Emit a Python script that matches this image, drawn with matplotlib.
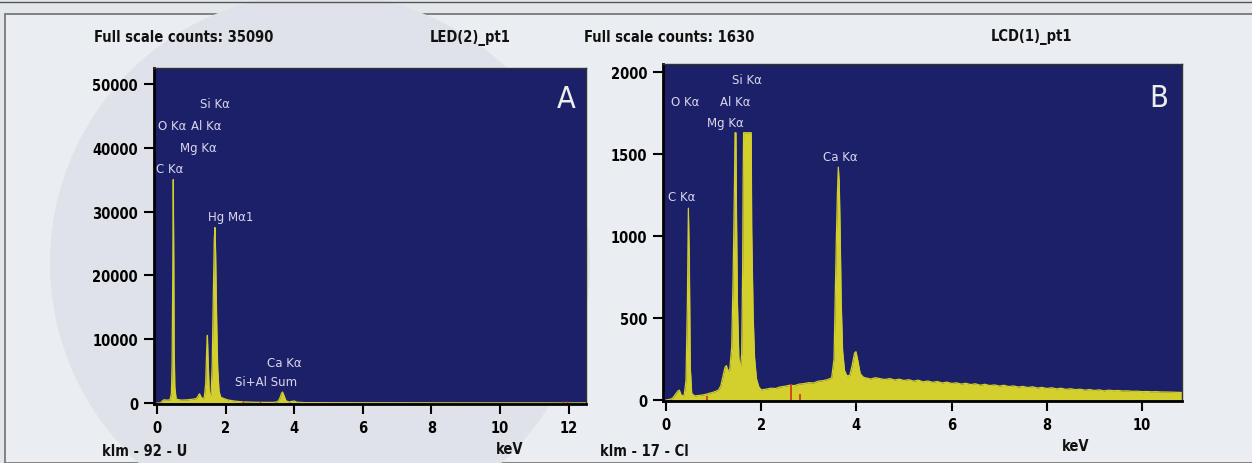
import numpy as np
import matplotlib
matplotlib.use('Agg')
import matplotlib.pyplot as plt
from matplotlib.patches import Rectangle, Circle

# ---- spectrum A: LED(2)_pt1 ----
energy_a = [0.00, 0.10, 0.15, 0.20, 0.30, 0.38, 0.42, 0.44, 0.46, 0.475, 0.49, 0.50, 0.52, 0.56,
            0.70, 0.90, 1.05, 1.15, 1.20, 1.24, 1.28, 1.33, 1.38, 1.42, 1.45, 1.47, 1.49, 1.52,
            1.55, 1.58, 1.61, 1.64, 1.67, 1.69, 1.71, 1.74, 1.77, 1.81, 1.86, 1.95, 2.05, 2.20,
            2.35, 2.50, 2.80, 3.10, 3.40, 3.52, 3.58, 3.63, 3.66, 3.70, 3.76, 3.85, 3.93, 4.00,
            4.08, 4.30, 5.0, 6.0, 7.0, 8.0, 9.0, 10.0, 11.0, 12.0, 12.5]
counts_a = [0, 0, 300, 500, 450, 500, 1500, 6000, 20000, 35000, 22000, 9000, 2500, 600,
            450, 500, 600, 700, 1100, 1450, 1000, 650, 900, 3000, 8500, 10600, 7000, 2200,
            1000, 1500, 6000, 16000, 25500, 27500, 23500, 13000, 5500, 1800, 900, 700, 500, 350,
            250, 180, 120, 100, 100, 200, 700, 1500, 1720, 1200, 350, 150, 250, 320,
            120, 60, 50, 40, 35, 30, 25, 20, 20, 15, 15]
red_a = [2.50, 3.00, 11.85, 11.95]

# ---- spectrum B: LCD(1)_pt1 ----
energy_b = [0.00, 0.10, 0.15, 0.20, 0.25, 0.28, 0.32, 0.38, 0.42, 0.45, 0.47, 0.49, 0.51, 0.54,
            0.60, 0.70, 0.80, 0.90, 1.00, 1.10, 1.15, 1.20, 1.24, 1.27, 1.30, 1.34, 1.38, 1.41,
            1.43, 1.44, 1.45, 1.47, 1.48, 1.50, 1.53, 1.56, 1.59, 1.61, 1.62, 1.63, 1.79, 1.80,
            1.83, 1.86, 1.90, 1.95, 2.00, 2.1, 2.2, 2.3, 2.4, 2.5, 2.6, 2.7, 2.8, 2.9, 3.0, 3.1,
            3.2, 3.3, 3.4, 3.48, 3.53, 3.56, 3.58, 3.60, 3.62, 3.64, 3.66, 3.68, 3.71, 3.75, 3.80,
            3.86, 3.91, 3.96, 3.99, 4.03, 4.08, 4.15,
            4.2, 4.3, 4.4, 4.5, 4.6, 4.7, 4.8, 4.9, 5.0, 5.1, 5.2, 5.3, 5.4, 5.5, 5.6, 5.7, 5.8,
            5.9, 6.0, 6.1, 6.2, 6.3, 6.4, 6.5, 6.6, 6.7, 6.8, 6.9, 7.0, 7.1, 7.2, 7.3, 7.4, 7.5,
            7.6, 7.7, 7.8, 7.9, 8.0, 8.1, 8.2, 8.3, 8.4, 8.5, 8.6, 8.7, 8.8, 8.9, 9.0, 9.1, 9.2,
            9.3, 9.4, 9.5, 9.6, 9.7, 9.8, 9.9, 10.0, 10.1, 10.2, 10.3, 10.4, 10.5, 10.6, 10.7, 10.84]
counts_b = [0, 5, 15, 35, 55, 60, 30, 25, 120, 600, 1170, 850, 200, 40,
            25, 28, 32, 40, 48, 60, 85, 150, 200, 210, 175, 190, 320, 750,
            1134, 1347, 1630, 1630, 1150, 600, 260, 185, 280, 800, 1305, 1630, 1630, 1050,
            520, 260, 130, 80, 62, 66, 72, 70, 80, 84, 90, 88, 97, 100, 106, 104,
            115, 118, 125, 135, 250, 700, 1000, 1244, 1420, 1320, 1000, 600, 300, 180, 148,
            150, 210, 285, 295, 240, 160, 138,
            135, 128, 136, 130, 125, 131, 122, 127, 119, 124, 115, 121, 111, 116, 108, 113, 104,
            109, 101, 105, 97, 102, 94, 99, 90, 96, 88, 92, 85, 90, 82, 86, 79, 83,
            76, 81, 73, 77, 70, 75, 68, 72, 65, 69, 63, 66, 60, 64, 58, 62, 56,
            60, 57, 58, 55, 56, 53, 54, 51, 52, 50, 51, 49, 49, 48, 47, 46]
red_b = [0.86, 2.62, 2.82]
red_b_h = [22, 95, 35]

# peak labels: (text, keV, counts)
labels_a = [('Si Kα', 1.69, 47000), ('O Kα', 0.44, 43500), ('Al Kα', 1.43, 43500),
            ('Mg Kα', 1.20, 40100), ('C Kα', 0.38, 36800), ('Hg Mα1', 2.16, 29300),
            ('Ca Kα', 3.70, 6300), ('Si+Al Sum', 3.18, 3400)]
labels_b = [('Si Kα', 1.70, 1957), ('O Kα', 0.40, 1823), ('Al Kα', 1.45, 1823),
            ('Mg Kα', 1.24, 1695), ('Ca Kα', 3.66, 1482), ('C Kα', 0.34, 1244)]

ticks_a_x = [0, 2, 4, 6, 8, 10, 12]
ticks_a_y = [0, 10000, 20000, 30000, 40000, 50000]
ticks_b_x = [0, 2, 4, 6, 8, 10]
ticks_b_y = [0, 500, 1000, 1500, 2000]

NAVY = '#1b2068'
YELLOW = '#d3cf2c'
LABEL = '#ddd7ee'
BOLD = dict(family='DejaVu Sans', stretch='condensed', weight='bold')

fig = plt.figure(figsize=(12.52, 4.64), dpi=100)
fig.patch.set_facecolor('#e3e7ec')

# page frame and faint background
fig.add_artist(Rectangle((5 / 1252, 0), 1.0, 1 - 15 / 464, transform=fig.transFigure,
                         facecolor='#eaedf1', edgecolor='#707070', lw=1.2, zorder=0))
fig.add_artist(Circle((3.2, 2.0), 2.7, transform=fig.dpi_scale_trans,
                      facecolor='#e0e2ea', edgecolor='none', zorder=0))
fig.add_artist(plt.Line2D([0, 1], [1 - 3 / 464, 1 - 3 / 464], transform=fig.transFigure,
                          color='#555555', lw=1.0))


def draw_panel(ax, energy, counts, xlim, ylim, xt, yt):
    ax.set_facecolor(NAVY)
    ax.fill_between(energy, counts, 0, color=YELLOW, lw=0)
    ax.plot(energy, counts, color=YELLOW, lw=0.9)
    ax.set_xlim(*xlim)
    ax.set_ylim(*ylim)
    ax.set_xticks(xt)
    ax.set_yticks(yt)
    ax.tick_params(direction='out', length=7.5, width=1.5, color='black', pad=4)
    for lab in ax.get_xticklabels() + ax.get_yticklabels():
        lab.set_family(BOLD['family'])
        lab.set_stretch(BOLD['stretch'])
        lab.set_fontweight('bold')
        lab.set_fontsize(10.5)
    for s in ['left', 'bottom']:
        ax.spines[s].set_linewidth(2)
    for s in ['top', 'right']:
        ax.spines[s].set_linewidth(1)
        ax.spines[s].set_color('#333333')


axa = fig.add_axes([154 / 1252, 1 - 405 / 464, 432 / 1252, 336 / 464])
draw_panel(axa, energy_a, counts_a, (-0.087, 12.51), (-157, 52500), ticks_a_x, ticks_a_y)
axa.vlines(red_a, 0, 250, color='#d03020', lw=1)
for txt, x, y in labels_a:
    axa.text(x, y, txt, color=LABEL, fontsize=8.5, ha='center', va='center')
axa.text(0.955, 0.91, 'A', transform=axa.transAxes, color='#eeeeee', fontsize=22,
         family='DejaVu Sans', stretch='condensed', ha='center', va='center')

axb = fig.add_axes([663 / 1252, 1 - 402 / 464, 519 / 1252, 337 / 464])
draw_panel(axb, energy_b, counts_b, (-0.063, 10.84), (-6, 2049), ticks_b_x, ticks_b_y)
axb.vlines(red_b, 0, red_b_h, color='#d03020', lw=1.2)
for txt, x, y in labels_b:
    axb.text(x, y, txt, color=LABEL, fontsize=8.5, ha='center', va='center')
axb.text(0.955, 0.90, 'B', transform=axb.transAxes, color='#eeeeee', fontsize=22,
         family='DejaVu Sans', stretch='condensed', ha='center', va='center')

# header and footer texts (pixel positions -> figure fractions)
def ftext(px, py, s, ha='left'):
    fig.text(px / 1252, 1 - py / 464, s, ha=ha, va='center', fontsize=10.5,
             color='#111111', **BOLD)


ftext(94, 38, 'Full scale counts: 35090')
ftext(470, 38, 'LED(2)_pt1', ha='center')
ftext(584, 38, 'Full scale counts: 1630')
ftext(1032, 37, 'LCD(1)_pt1', ha='center')
ftext(102, 452, 'klm - 92 - U')
ftext(510, 450, 'keV', ha='center')
ftext(600, 452, 'klm - 17 - Cl')
ftext(1076, 447, 'keV', ha='center')

fig.savefig('out.png', dpi=100, facecolor=fig.get_facecolor())
